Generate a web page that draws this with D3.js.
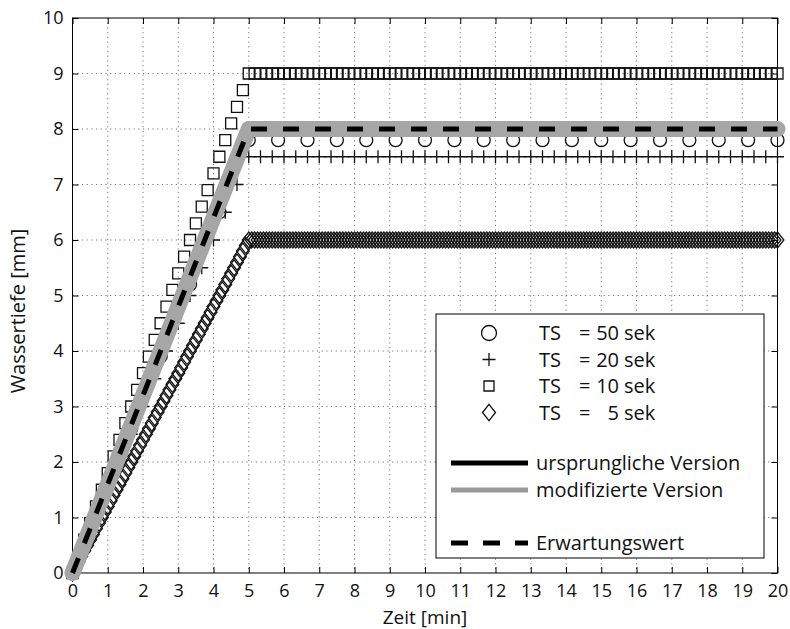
<!DOCTYPE html>
<html>
<head>
  <meta charset="UTF-8">
  <title>Wassertiefe über Zeit</title>
  <script src="https://d3js.org/d3.v7.min.js"></script>
  <style>
    body { margin: 0; background: #fff; }
    svg { display: block; }
    text { font-family: "Open Sans", "Noto Sans", sans-serif; font-size: 20px; fill: #111; }
    .tick text { font-size: 18px; }
    .grid line { stroke: #777; stroke-width: 1; stroke-dasharray: 1.2,3.5; }
    .frame { fill: none; stroke: #000; stroke-width: 1; }
    .mk { fill: none; stroke: #111; stroke-width: 1.3; }
  </style>
</head>
<body>
<div id="chart"></div>
<script>
  // Achsen
  const xTicks = [0, 1, 2, 3, 4, 5, 6, 7, 8, 9, 10, 11, 12, 13, 14, 15, 16, 17, 18, 19, 20];
  const yTicks = [0, 1, 2, 3, 4, 5, 6, 7, 8, 9, 10];

  // Abtastzeit je Serie [s] und Legendentext
  const tsSeconds = [50, 20, 10, 5];
  const tsLabels = ["50", "20", "10", "5"];
  const markerTypes = ["circle", "plus", "square", "diamond"];

  const rampCircle = [0, 1.3, 2.6, 3.9, 5.2, 6.5];
  const rampPlus = [0, 0.5, 1, 1.5, 2, 2.5, 3, 3.5, 4, 4.5, 5, 5.5, 6, 6.5, 7];
  const rampSquare = [0, 0.3, 0.6, 0.9, 1.2, 1.5, 1.8, 2.1, 2.4, 2.7, 3, 3.3, 3.6, 3.9, 4.2,
                      4.5, 4.8, 5.1, 5.4, 5.7, 6, 6.3, 6.6, 6.9, 7.2, 7.5, 7.8, 8.1, 8.4, 8.7];
  const rampDiamond = [0, 0.1, 0.2, 0.3, 0.4, 0.5, 0.6, 0.7, 0.8, 0.9, 1, 1.1, 1.2, 1.3, 1.4,
                       1.5, 1.6, 1.7, 1.8, 1.9, 2, 2.1, 2.2, 2.3, 2.4, 2.5, 2.6, 2.7, 2.8, 2.9,
                       3, 3.1, 3.2, 3.3, 3.4, 3.5, 3.6, 3.7, 3.8, 3.9, 4, 4.1, 4.2, 4.3, 4.4,
                       4.5, 4.6, 4.7, 4.8, 4.9, 5, 5.1, 5.2, 5.3, 5.4, 5.5, 5.6, 5.7, 5.8, 5.9];
  const ramps = [rampCircle, rampPlus, rampSquare, rampDiamond];
  const plateau = [7.8, 7.5, 9, 6];

  // modifizierte Version und Erwartungswert (Eckpunkte)
  const modT = [0, 5, 20];
  const modY = [0, 8, 8];
  const expT = [0, 5, 20];
  const expY = [0, 8, 8];

  const tMax = 20;

  const W = 790, H = 629;
  const svg = d3.select("#chart").append("svg").attr("width", W).attr("height", H);

  const x = d3.scaleLinear().domain([0, 20]).range([72.5, 777.5]);
  const y = d3.scaleLinear().domain([0, 10]).range([573, 18]);

  // Gitter
  const grid = svg.append("g").attr("class", "grid");
  grid.selectAll(".gx").data(xTicks.slice(1, -1)).join("line")
    .attr("x1", d => x(d)).attr("x2", d => x(d)).attr("y1", y(10)).attr("y2", y(0));
  grid.selectAll(".gy").data(yTicks.slice(1, -1)).join("line")
    .attr("x1", x(0)).attr("x2", x(20)).attr("y1", d => y(d)).attr("y2", d => y(d));

  // Achsen mit innenliegenden Ticks auf allen Seiten
  const tl = 6;
  const axB = svg.append("g").attr("transform", `translate(0,${y(0)})`)
    .call(d3.axisBottom(x).tickValues(xTicks).tickSizeInner(-tl).tickSizeOuter(0).tickPadding(11.5));
  const axT = svg.append("g").attr("transform", `translate(0,${y(10)})`)
    .call(d3.axisTop(x).tickValues(xTicks).tickSizeInner(-tl).tickSizeOuter(0).tickFormat(""));
  const axL = svg.append("g").attr("transform", `translate(${x(0)},0)`)
    .call(d3.axisLeft(y).tickValues(yTicks).tickSizeInner(-tl).tickSizeOuter(0).tickPadding(9));
  const axR = svg.append("g").attr("transform", `translate(${x(20)},0)`)
    .call(d3.axisRight(y).tickValues(yTicks).tickSizeInner(-tl).tickSizeOuter(0).tickFormat(""));
  [axB, axT, axL, axR].forEach(a => {
    a.attr("font-size", null).attr("font-family", null);
    a.select(".domain").remove();
    a.selectAll("line").attr("stroke", "#000");
    a.selectAll("text").attr("fill", "#111");
  });

  svg.append("rect").attr("class", "frame")
    .attr("x", x(0)).attr("y", y(10)).attr("width", x(20) - x(0)).attr("height", y(0) - y(10));

  // Marker
  function markerPath(type, s) {
    if (type === "circle") {
      const r = s;
      return `M${-r},0A${r},${r} 0 1,0 ${r},0A${r},${r} 0 1,0 ${-r},0Z`;
    }
    if (type === "plus") return `M${-s},0H${s}M0,${-s}V${s}`;
    if (type === "square") return `M${-s},${-s}H${s}V${s}H${-s}Z`;
    if (type === "diamond") return `M0,${-s * 1.25}L${s},0L0,${s * 1.25}L${-s},0Z`;
  }
  const markerSize = { circle: 6.5, plus: 6.5, square: 5.5, diamond: 6.4 };

  const plotG = svg.append("g");
  [3, 2, 1, 0].forEach(i => {
    const step = tsSeconds[i] / 60;
    const n = Math.round(tMax / step);
    const pts = [];
    for (let k = 0; k <= n; k++) {
      pts.push({ t: k * step, v: k < ramps[i].length ? ramps[i][k] : plateau[i] });
    }
    plotG.append("g").selectAll("path").data(pts).join("path")
      .attr("class", "mk")
      .attr("transform", d => `translate(${x(d.t)},${y(d.v)})`)
      .attr("d", markerPath(markerTypes[i], markerSize[markerTypes[i]]));
  });

  const line = d3.line().x(d => x(d[0])).y(d => y(d[1]));

  // modifizierte Version (graues Band)
  plotG.append("path")
    .datum(modT.map((t, i) => [t, modY[i]]))
    .attr("d", line)
    .attr("fill", "none").attr("stroke", "#a6a6a6").attr("stroke-width", 16)
    .attr("stroke-linejoin", "round").attr("stroke-linecap", "round");

  // Erwartungswert
  plotG.append("path")
    .datum(expT.map((t, i) => [t, expY[i]]))
    .attr("d", line)
    .attr("fill", "none").attr("stroke", "#000").attr("stroke-width", 5)
    .attr("stroke-dasharray", "16,16");

  // Legende
  const lg = svg.append("g");
  lg.append("rect").attr("x", 436).attr("y", 314).attr("width", 328).attr("height", 244)
    .attr("fill", "#fff").attr("stroke", "#000").attr("stroke-width", 1);

  const rowY = [333, 359.5, 386, 412.5];
  const legendSize = { circle: 7.5, plus: 6.5, square: 5, diamond: 6.5 };
  markerTypes.forEach((m, i) => {
    lg.append("path").attr("class", "mk")
      .attr("transform", `translate(489,${rowY[i]})`)
      .attr("d", markerPath(m, legendSize[m]));
    lg.append("text").attr("x", 539).attr("y", rowY[i]).attr("dy", "0.36em").text("TS");
    lg.append("text").attr("x", 579).attr("y", rowY[i]).attr("dy", "0.36em").text("=");
    lg.append("text").attr("x", 619).attr("y", rowY[i]).attr("dy", "0.36em")
      .attr("text-anchor", "end").text(tsLabels[i]);
    lg.append("text").attr("x", 624).attr("y", rowY[i]).attr("dy", "0.36em").text("sek");
  });

  const lineRows = [
    { y: 463, stroke: "#000", dash: null, label: "ursprungliche Version" },
    { y: 490, stroke: "#999", dash: null, label: "modifizierte Version" },
    { y: 543, stroke: "#000", dash: "17,15", label: "Erwartungswert" }
  ];
  lineRows.forEach(r => {
    lg.append("line").attr("x1", 451).attr("x2", 528).attr("y1", r.y).attr("y2", r.y)
      .attr("stroke", r.stroke).attr("stroke-width", 5)
      .attr("stroke-dasharray", r.dash);
    lg.append("text").attr("x", 536).attr("y", r.y).attr("dy", "0.36em").text(r.label);
  });

  // Achsenbeschriftungen
  svg.append("text").attr("x", (x(0) + x(20)) / 2).attr("y", 623.5)
    .attr("text-anchor", "middle").style("font-size", "19px").text("Zeit [min]");
  svg.append("text").attr("transform", "translate(25,311) rotate(-90)")
    .attr("text-anchor", "middle").text("Wassertiefe [mm]");
</script>
</body>
</html>
